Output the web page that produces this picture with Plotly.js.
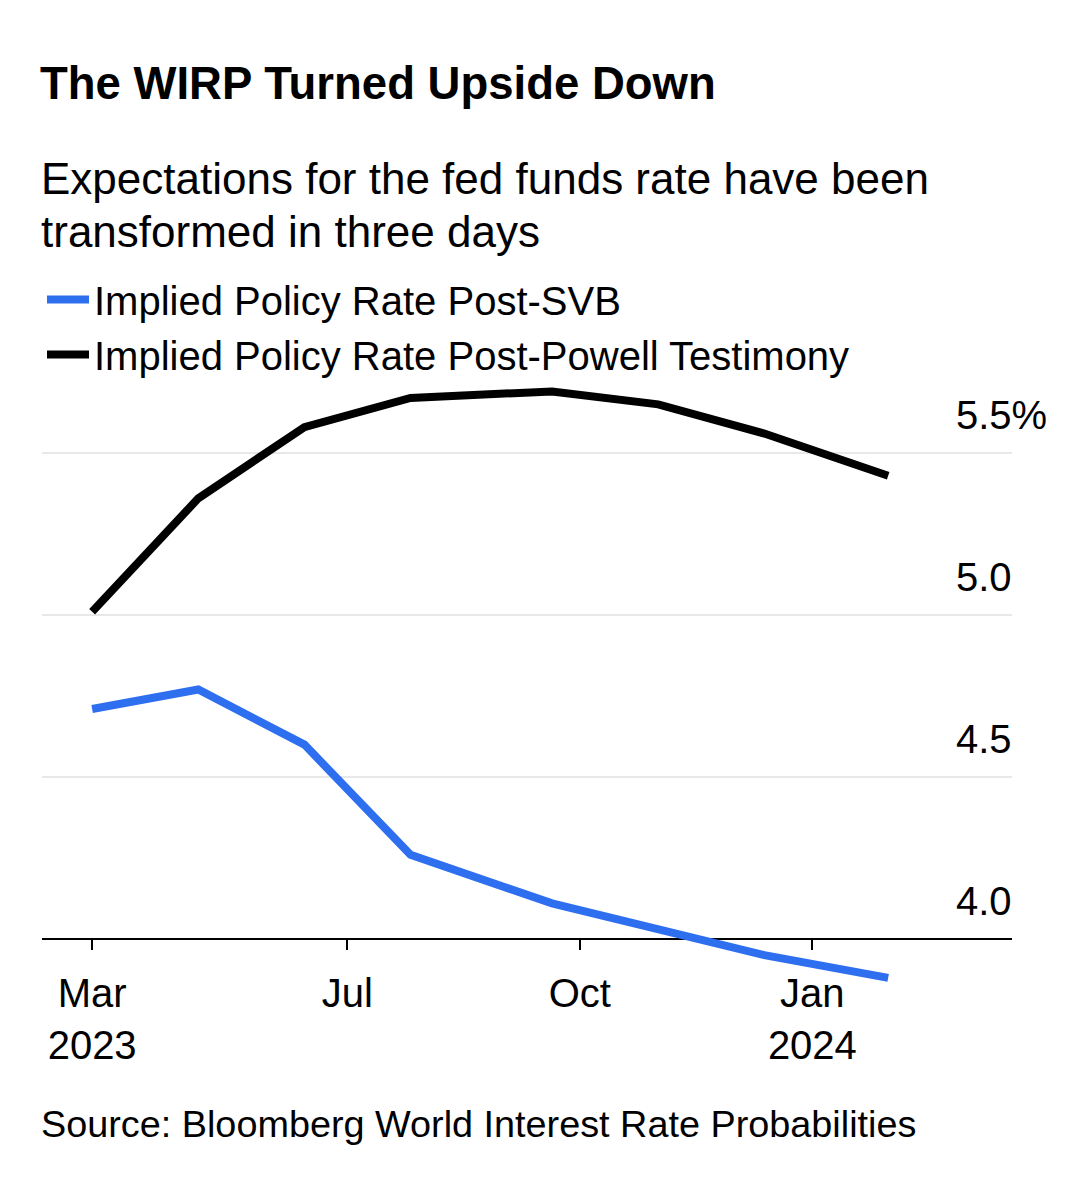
<!DOCTYPE html>
<html><head><meta charset="utf-8">
<script src="https://cdn.plot.ly/plotly-3.0.1.min.js"></script>
<style>html,body{margin:0;padding:0;background:#fff}</style>
</head><body>
<div id="chart" style="width:1090px;height:1200px"></div>
<script>
// ---- data ----
const meetingDates = ['2023-03-22','2023-05-03','2023-06-14','2023-07-26','2023-09-20','2023-11-01','2023-12-13','2024-01-31'];
const postSVB     = [4.71, 4.77, 4.60, 4.26, 4.11, 4.03, 3.95, 3.88];
const postPowell  = [5.01, 5.36, 5.58, 5.67, 5.69, 5.65, 5.56, 5.43];
const seriesNames = ['Implied Policy Rate Post-SVB', 'Implied Policy Rate Post-Powell Testimony'];
const xTickVals = ['2023-03-22','2023-07-01','2023-10-01','2024-01-01'];
const xTickText = ['Mar<br>2023','Jul','Oct','Jan<br>2024'];
const yTickVals = [4.0, 4.5, 5.0, 5.5];
const yTickText = ['4.0','4.5','5.0','5.5%'];
const titleText = 'The WIRP Turned Upside Down';
const subtitleLines = ['Expectations for the fed funds rate have been', 'transformed in three days'];
const sourceText = 'Source: Bloomberg World Interest Rate Probabilities';

// ---- layout helpers ----
const W = 1090, H = 1200;
const M = {l: 42, r: 78, t: 375, b: 200};
const yRange = [3.8117, 5.7407];
const xRange = ['2023-03-02 04:00', '2024-03-20'];
const py = v => (H - M.b - v) / (H - M.t - M.b);
const FONT = 'Liberation Sans, Arial, Helvetica, sans-serif';

const traces = [
  {x: meetingDates, y: postSVB, name: seriesNames[0], type: 'scatter', mode: 'lines',
   line: {color: '#2E6FF0', width: 8}, legendgroup: 'a', hoverinfo: 'skip'},
  {x: meetingDates, y: postPowell, name: seriesNames[1], type: 'scatter', mode: 'lines',
   line: {color: '#000000', width: 8}, legendgroup: 'b', hoverinfo: 'skip'}
];

const subtitleY = [178, 231];

const layout = {
  width: W, height: H,
  margin: M,
  paper_bgcolor: '#fff', plot_bgcolor: '#fff',
  font: {family: FONT, color: '#000', size: 40},
  title: {text: titleText, font: {family: FONT, size: 45.5, weight: 'bold', color: '#000'},
          x: (M.l - 2) / W, xanchor: 'left', xref: 'container',
          y: 1 - 83 / H, yanchor: 'middle', yref: 'container'},
  showlegend: true,
  legend: {x: 0, xanchor: 'left', y: py(267), yanchor: 'top', font: {size: 40, color: '#000'},
           tracegroupgap: 0, itemwidth: 42, bgcolor: 'rgba(0,0,0,0)', traceorder: 'grouped'},
  xaxis: {type: 'date', range: xRange, tickvals: xTickVals, ticktext: xTickText,
          anchor: 'free', position: (4.0 - yRange[0]) / (yRange[1] - yRange[0]),
          showline: true, linecolor: '#000', linewidth: 2,
          ticks: 'outside', ticklen: 10, tickwidth: 2, tickcolor: '#000',
          showgrid: false, zeroline: false, layer: 'below traces',
          ticklabelstandoff: 9,
          tickfont: {size: 40, color: '#000'}, fixedrange: true},
  yaxis: {range: yRange, tickvals: yTickVals, ticktext: yTickText, side: 'right',
          showgrid: true, gridcolor: '#e8e8e8', gridwidth: 2, zeroline: false, showline: false,
          ticks: '', tickfont: {size: 40, color: '#000'},
          ticklabelstandoff: -57, ticklabelshift: -38, automargin: false, fixedrange: true},
  annotations: subtitleLines.map((t, i) => ({
      text: t, xref: 'paper', yref: 'paper', x: 0, xanchor: 'left', xshift: -3,
      y: py(subtitleY[i]), yanchor: 'middle', align: 'left', showarrow: false,
      font: {size: 44, color: '#000'}})).concat([
    {text: sourceText, xref: 'paper', yref: 'paper', x: 0, xanchor: 'left', xshift: -3,
     y: py(1124), yanchor: 'middle', align: 'left', showarrow: false,
     font: {size: 37.8, color: '#000'}}
  ])
};

Plotly.newPlot('chart', traces, layout, {displayModeBar: false, staticPlot: true});
</script>
</body></html>
